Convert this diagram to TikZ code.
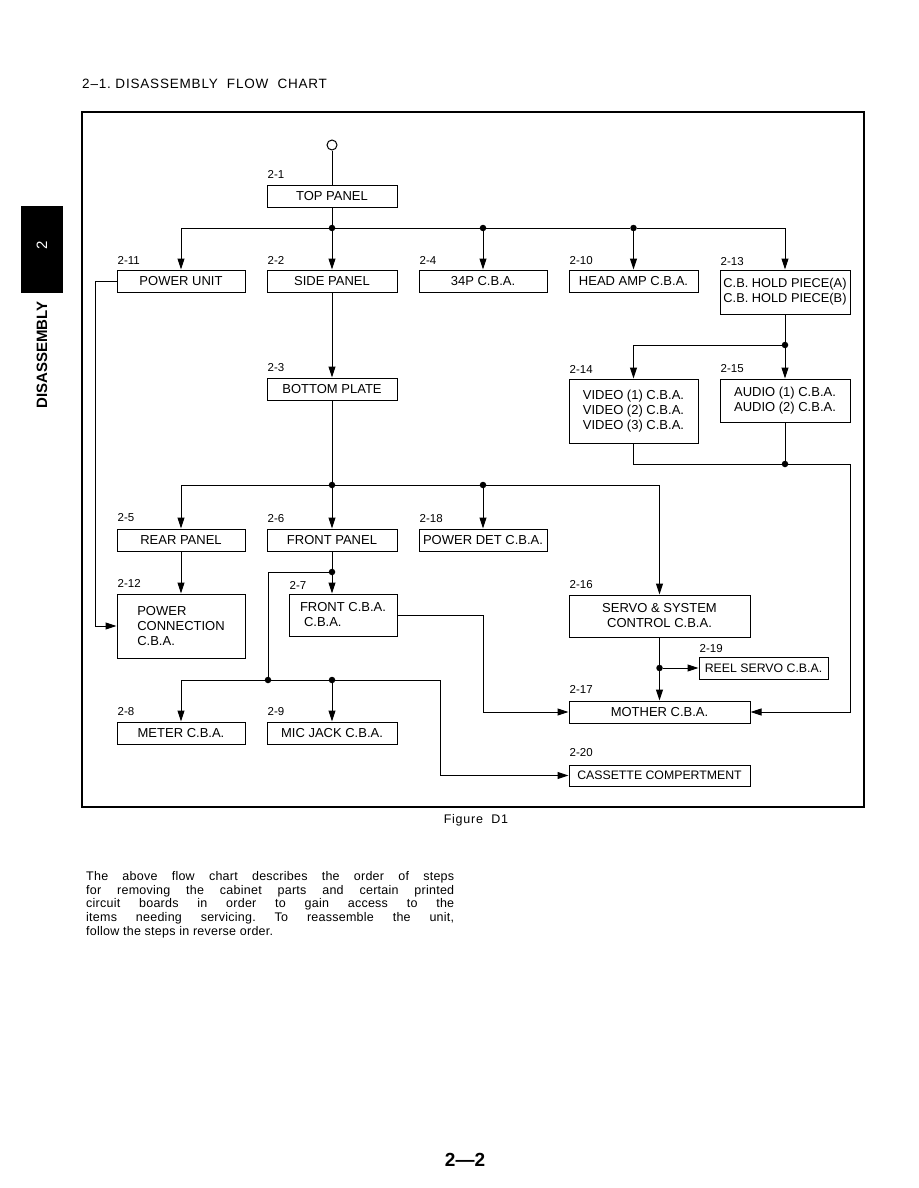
\documentclass[tikz,border=0pt]{standalone}
\usepackage{fontspec}
\setmainfont{Liberation Sans}
\newfontfamily\spaced[LetterSpace=6]{Liberation Sans}
\newfontfamily\paraspaced[LetterSpace=2]{Liberation Sans}
\usetikzlibrary{arrows.meta}
\begin{document}
\begin{tikzpicture}[x=1pt,y=-1pt,
  box/.style={draw, line width=1pt, inner sep=1pt, font=\fontsize{13}{15}\selectfont, align=center},
  lab/.style={font=\fontsize{11.5}{13}\selectfont, anchor=south west, inner sep=0pt},
  arr/.style={-{Triangle[length=11pt,width=7pt]}},
  ln/.style={line width=1pt},
  jdot/.style={circle, fill, inner sep=0pt, minimum size=6.5pt}]
\fill[white] (0,0) rectangle (918,1188);
\useasboundingbox (0,0) rectangle (918,1188);

% title and frame
\node[font=\spaced\fontsize{13.5}{16}\selectfont, anchor=west, inner sep=0pt] (title) at (82,84) {2–1.\ DISASSEMBLY\ \ FLOW\ \ CHART};
\draw[line width=1.3pt] (82,112) rectangle (864,807);

% side tab
\fill (21,206) rectangle (63,293);
\node[rotate=90, white, font=\fontsize{15}{15}\selectfont] (tabnum) at (42,245) {2};
\node[rotate=90, font=\bfseries\fontsize{15}{15}\selectfont] (tabtxt) at (42,355) {DISASSEMBLY};

% boxes
\node[box, minimum width=130pt, minimum height=22pt] (top) at (332,196) {TOP PANEL};
\node[box, minimum width=128pt, minimum height=22pt] (pu) at (181,281) {POWER UNIT};
\node[box, minimum width=130pt, minimum height=22pt] (sp) at (332,281) {SIDE PANEL};
\node[box, minimum width=128pt, minimum height=22pt] (p34) at (483,281) {34P C.B.A.};
\node[box, minimum width=129pt, minimum height=22pt] (ha) at (633.5,281) {HEAD AMP C.B.A.};
\node[box, minimum width=130pt, minimum height=44pt, font=\fontsize{12.8}{15}\selectfont] (hold) at (785,292) {C.B. HOLD PIECE(A)\\C.B. HOLD PIECE(B)};
\node[box, minimum width=129pt, minimum height=64pt] (vid) at (633.5,411) {VIDEO (1) C.B.A.\\VIDEO (2) C.B.A.\\VIDEO (3) C.B.A.};
\node[box, minimum width=130pt, minimum height=43pt] (aud) at (785,400.5) {AUDIO (1) C.B.A.\\AUDIO (2) C.B.A.};
\node[box, minimum width=130pt, minimum height=22pt] (bp) at (332,389) {BOTTOM PLATE};
\node[box, minimum width=128pt, minimum height=22pt] (rear) at (181,540) {REAR PANEL};
\node[box, minimum width=130pt, minimum height=22pt] (front) at (332,540) {FRONT PANEL};
\node[box, minimum width=128pt, minimum height=22pt] (pdet) at (483,540) {POWER DET C.B.A.};
\node[box, minimum width=128pt, minimum height=64pt, align=left] (pc) at (181,626) {POWER\\CONNECTION\\C.B.A.};
\node[box, minimum width=108pt, minimum height=42pt, align=left] (fcba) at (343,615) {FRONT C.B.A.\\\hspace{4pt}C.B.A.};
\node[box, minimum width=128pt, minimum height=22pt] (meter) at (181,733) {METER C.B.A.};
\node[box, minimum width=130pt, minimum height=22pt] (mic) at (332,733) {MIC JACK C.B.A.};
\node[box, minimum width=181pt, minimum height=42pt] (servo) at (659.5,616) {SERVO \& SYSTEM\\CONTROL C.B.A.};
\node[box, minimum width=129pt, minimum height=22pt, font=\fontsize{12.3}{15}\selectfont] (reel) at (763.5,668) {REEL SERVO C.B.A.};
\node[box, minimum width=181pt, minimum height=22pt] (mother) at (659.5,712) {MOTHER C.B.A.};
\node[box, minimum width=181pt, minimum height=21pt, font=\fontsize{12.3}{15}\selectfont] (cass) at (659.5,775.5) {CASSETTE COMPERTMENT};

% step labels
\node[lab] (l1) at ([xshift=1pt,yshift=6pt]top.north west) {2-1};
\node[lab] (l11) at ([xshift=1pt,yshift=5pt]pu.north west) {2-11};
\node[lab] (l2) at ([xshift=1pt,yshift=5pt]sp.north west) {2-2};
\node[lab] (l4) at ([xshift=1pt,yshift=5pt]p34.north west) {2-4};
\node[lab] (l10) at ([xshift=1pt,yshift=5pt]ha.north west) {2-10};
\node[lab] (l13) at ([xshift=1pt,yshift=4pt]hold.north west) {2-13};
\node[lab] (l14) at ([xshift=1pt,yshift=5pt]vid.north west) {2-14};
\node[lab] (l15) at ([xshift=1pt,yshift=6pt]aud.north west) {2-15};
\node[lab] (l3) at ([xshift=1pt,yshift=6pt]bp.north west) {2-3};
\node[lab] (l5) at ([xshift=1pt,yshift=7pt]rear.north west) {2-5};
\node[lab] (l6) at ([xshift=1pt,yshift=6pt]front.north west) {2-6};
\node[lab] (l18) at ([xshift=1pt,yshift=6pt]pdet.north west) {2-18};
\node[lab] (l12) at ([xshift=1pt,yshift=6pt]pc.north west) {2-12};
\node[lab] (l7) at ([xshift=1pt,yshift=4pt]fcba.north west) {2-7};
\node[lab] (l8) at ([xshift=1pt,yshift=6pt]meter.north west) {2-8};
\node[lab] (l9) at ([xshift=1pt,yshift=6pt]mic.north west) {2-9};
\node[lab] (l16) at ([xshift=1pt,yshift=6pt]servo.north west) {2-16};
\node[lab] (l19) at ([xshift=1pt,yshift=4pt]reel.north west) {2-19};
\node[lab] (l17) at ([xshift=1pt,yshift=7pt]mother.north west) {2-17};
\node[lab] (l20) at ([xshift=1pt,yshift=8pt]cass.north west) {2-20};

% connectors
\node[circle, draw, line width=1pt, minimum size=10pt, inner sep=0pt] (start) at (332,145) {};
\draw[ln] (start) -- (top);
\node[jdot] (j1) at (332,228) {};
\node[jdot] (j2) at (483,228) {};
\node[jdot] (j3) at (633.5,228) {};
\draw[ln] (top) -- (j1);
\draw[ln, arr] (j1) -- (sp);
\draw[ln, arr] (j1) -| (pu.north);
\draw[ln] (j1) -- (j2);
\draw[ln] (j2) -- (j3);
\draw[ln, arr] (j2) -- (p34);
\draw[ln, arr] (j3) -- (ha);
\draw[ln, arr] (j3) -| (hold.north);

\node[jdot] (j4) at (785,345) {};
\draw[ln] (hold) -- (j4);
\draw[ln, arr] (j4) -- (aud);
\draw[ln, arr] (j4) -| (vid.north);
\node[jdot] (j5) at (785,464) {};
\coordinate (c1) at (850,464);
\draw[ln] (vid.south) |- (j5);
\draw[ln] (aud) -- (j5);
\draw[ln, arr] (j5) -- (c1) |- (mother.east);

\draw[ln, arr] (sp) -- (bp);
\node[jdot] (j6) at (332,485) {};
\draw[ln] (bp) -- (j6);
\draw[ln, arr] (j6) -| (rear.north);
\draw[ln, arr] (j6) -- (front);
\node[jdot] (j7) at (483,485) {};
\draw[ln] (j6) -- (j7);
\draw[ln, arr] (j7) -- (pdet);
\draw[ln, arr] (j7) -| (servo.north);

\coordinate (c2) at (95,281);
\draw[ln, arr] (pu.west) -- (c2) |- (pc.west);
\draw[ln, arr] (rear) -- (pc);
\node[jdot] (j8) at (332,572) {};
\draw[ln] (front) -- (j8);
\draw[ln, arr] (j8) -- (j8 |- fcba.north);
\node[jdot] (j9) at (268,680) {};
\draw[ln] (j8) -| (j9);
\node[jdot] (j10) at (332,680) {};
\draw[ln, arr] (j9) -| (meter.north);
\draw[ln] (j9) -- (j10);
\draw[ln, arr] (j10) -- (mic);
\coordinate (c3) at (440,680);
\draw[ln, arr] (j10) -- (c3) |- (cass.west);
\coordinate (c4) at (483,712);
\draw[ln, arr] (fcba.east) -| (c4) -- (mother.west);
\node[jdot] (j11) at (659.5,668) {};
\draw[ln, arr] (servo) -- (mother);
\draw[ln, arr] (j11) -- (reel.west);

% caption and text
\node[font=\spaced\fontsize{12.5}{14}\selectfont] (fig) at (476,820) {Figure\ \ D1};
\node[anchor=north west, inner sep=0pt, align=left, font=\paraspaced\fontsize{12.5}{13.75}\selectfont\frenchspacing] (para) at (86,871) {%
\makebox[368pt][s]{The above flow chart describes the order of steps}\\
\makebox[368pt][s]{for removing the cabinet parts and certain printed}\\
\makebox[368pt][s]{circuit boards in order to gain access to the}\\
\makebox[368pt][s]{items needing servicing. To reassemble the unit,}\\
follow the steps in reverse order.};
\node[font=\bfseries\fontsize{19}{20}\selectfont] (pnum) at (465,1160) {2—2};
\end{tikzpicture}
\end{document}
